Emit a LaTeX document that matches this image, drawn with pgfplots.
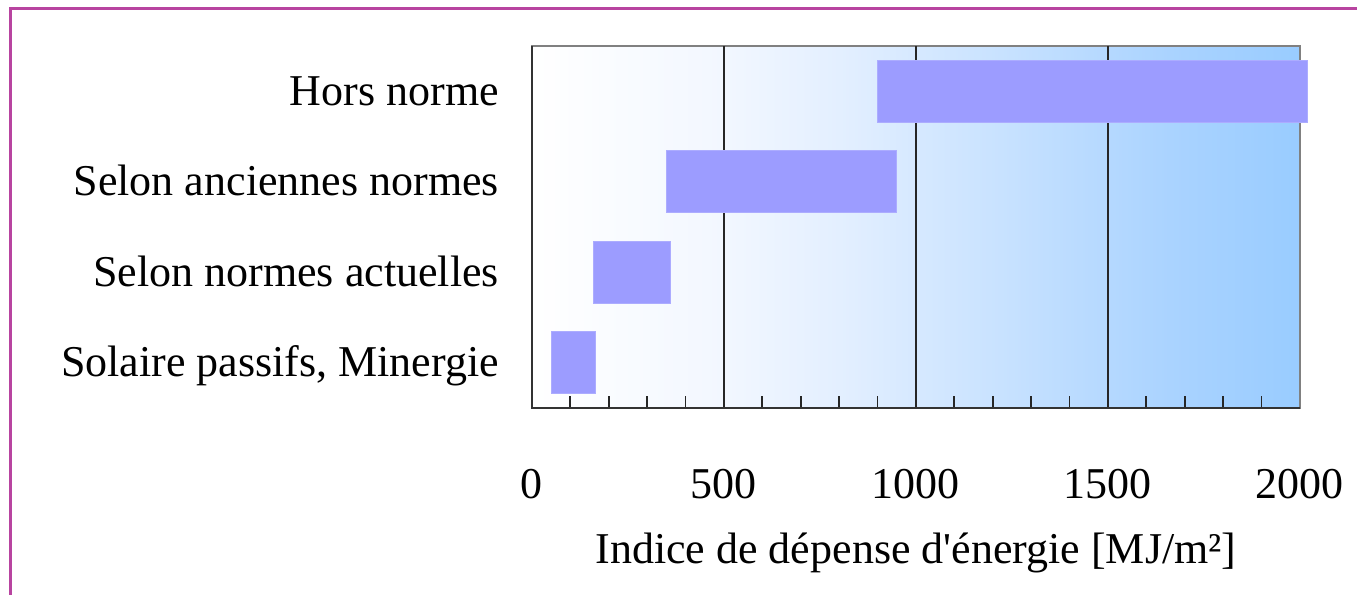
\documentclass[border=0pt]{standalone}
\usepackage{fontspec}
\setmainfont{Liberation Serif}[Ligatures=TeXOff]
\usepackage{pgfplots}
\pgfplotsset{compat=1.18}

\definecolor{barc}{RGB}{156,156,255}
\definecolor{barl}{RGB}{172,172,255}
\definecolor{bgA}{RGB}{242,247,255}
\definecolor{bgB}{RGB}{227,239,255}
\definecolor{bgC}{RGB}{200,226,255}
\definecolor{bgD}{RGB}{170,211,255}
\definecolor{bgend}{RGB}{153,204,255}
\definecolor{framec}{RGB}{184,68,160}

\pgfdeclarehorizontalshading{bgshade}{100bp}{
  color(0bp)=(white); color(25bp)=(white); color(37.5bp)=(bgA);
  color(45bp)=(bgB); color(55.5bp)=(bgC); color(66.5bp)=(bgD);
  color(75bp)=(bgend); color(100bp)=(bgend)}

% start and length of each band
\pgfplotstableread{
y start len
0 50 115
1 160 200
2 350 600
3 900 1120
}\bands

\begin{document}
\begin{tikzpicture}
\useasboundingbox (-266pt,-93.5pt) rectangle (412.5pt,204pt);
\draw[framec, line width=1.5pt] (-260.5pt,-93.5pt) -- (-260.5pt,199.5pt) -- (412.5pt,199.5pt);
\begin{axis}[
    at={(0,0)}, anchor=south west,
    width=384pt, height=181pt, scale only axis,
    font=\fontsize{22}{26}\selectfont,
    /pgf/number format/assume math mode=true,
    /pgf/number format/1000 sep={},
    xbar stacked, bar width=0.685,
    clip=false,
    xmin=0, xmax=2000,
    ymin=-0.5, ymax=3.5,
    xtick={0,500,1000,1500,2000},
    minor xtick={100,200,300,400,600,700,800,900,1100,1200,1300,1400,1600,1700,1800,1900},
    extra x ticks={500,1000,1500},
    extra x tick labels={},
    extra x tick style={grid=major, major tick length=0pt},
    major x grid style={line width=0.9pt, black!85},
    xtick pos=bottom,
    tick align=inside,
    major tick length=0pt,
    minor tick length=6pt,
    minor x tick style={line width=0.9pt, black!85},
    xticklabel style={anchor=base, yshift=-45pt},
    scaled x ticks=false,
    ytick={0,1,2,3},
    yticklabels={{Solaire passifs, Minergie},Selon normes actuelles,Selon anciennes normes,Hors norme},
    ytick style={draw=none},
    yticklabel style={anchor=base east, xshift=-13pt, yshift=-7pt},
    xlabel={Indice de dépense d'énergie [MJ/m²]},
    xlabel style={at={(axis description cs:0.5,0)}, anchor=base, yshift=-77.5pt},
    axis line style={draw=black!50, line width=1.4pt},
    axis background/.style={shading=bgshade},
]
\addplot[draw=none, fill=none] table[x=start, y=y] {\bands};
\addplot[fill=barc, draw=barl, line width=0.4pt] table[x=len, y=y] {\bands};
\draw[black!80, line width=1.4pt] (axis description cs:0,1) -- (axis description cs:0,0) -- (axis description cs:1,0);
\end{axis}
\end{tikzpicture}
\end{document}
